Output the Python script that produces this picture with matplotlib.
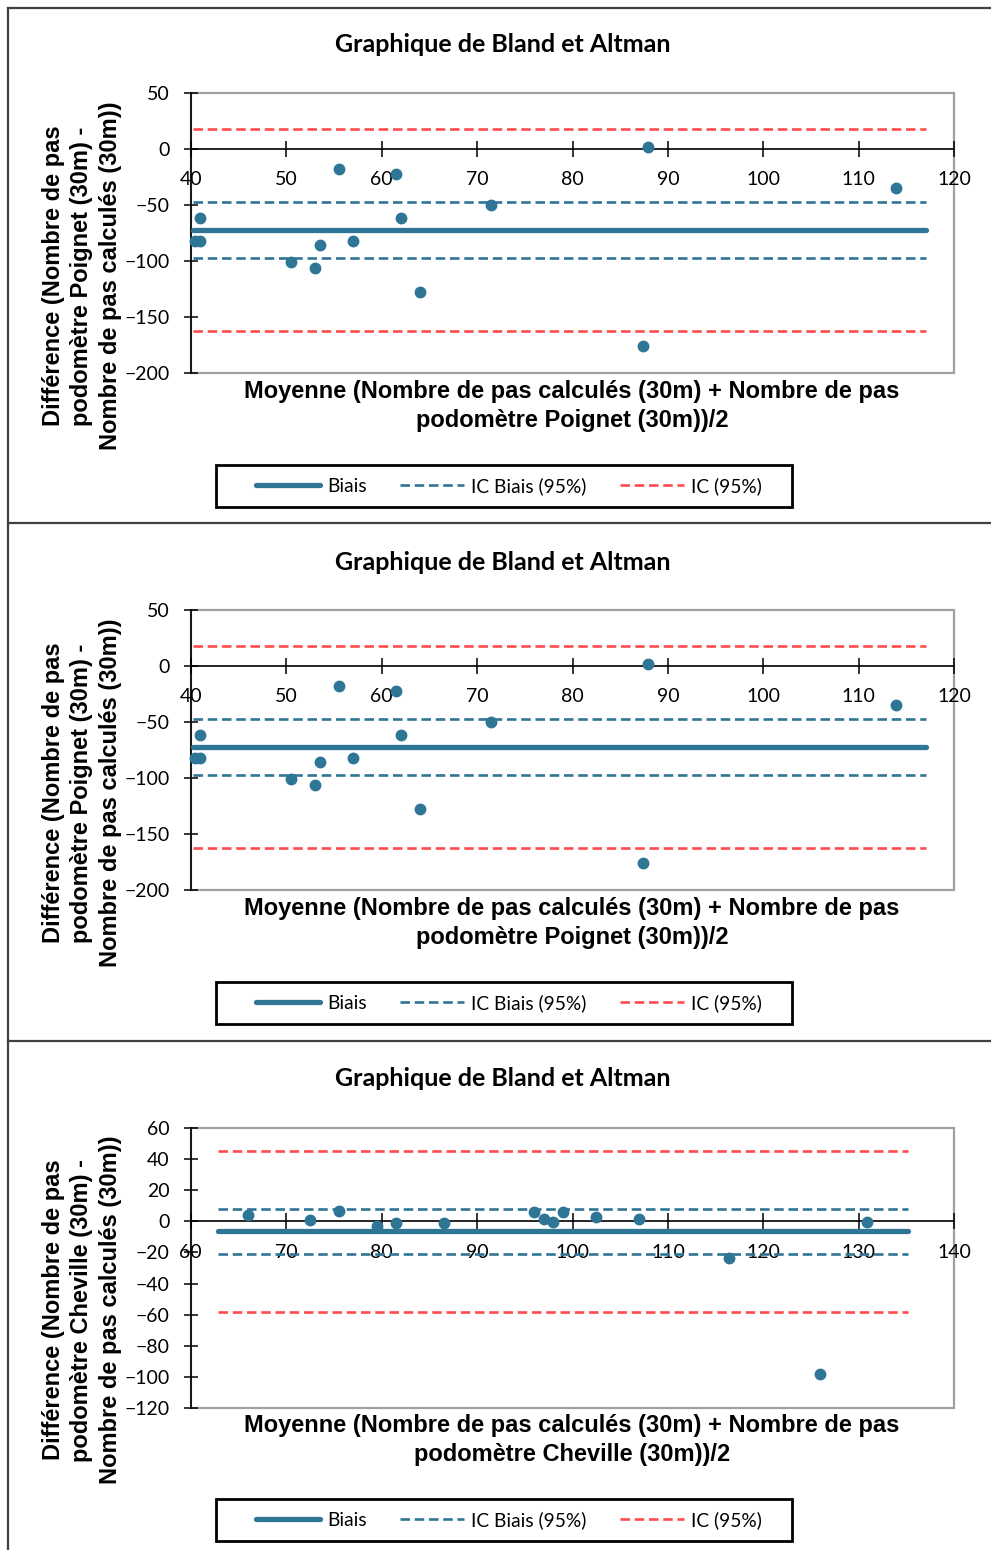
import matplotlib
matplotlib.use("Agg")
import matplotlib.pyplot as plt
from matplotlib.lines import Line2D
from matplotlib.patches import Rectangle

# ---------------- data ----------------
poignet_mean = [40.5, 41.0, 41.0, 55.5, 61.5, 62.0, 50.5, 53.0, 53.5, 57.0, 64.0, 71.5, 87.9, 113.9, 87.4]
poignet_diff = [-82, -82, -62, -18, -22, -62, -101, -106.5, -86, -82.5, -128, -50, 1.5, -34.5, -175.5]
poignet_bias = -72.3
poignet_icb = [-47.0, -97.6]
poignet_ic = [17.5, -162.2]
poignet_line_x = [40.2, 117.0]

cheville_mean = [66.0, 72.5, 75.5, 79.5, 81.5, 86.5, 96.0, 97.0, 98.0, 99.0, 102.5, 107.0, 130.9, 116.4, 125.9]
cheville_diff = [3.9, 1.0, 6.9, -2.8, -1.3, -1.3, 6.0, 1.7, -0.4, 6.0, 2.6, 1.7, -0.4, -23.5, -98.5]
cheville_bias = -6.3
cheville_icb = [8.2, -21.1]
cheville_ic = [45.4, -58.1]
cheville_line_x = [62.9, 135.2]

poignet_xticks = [40, 50, 60, 70, 80, 90, 100, 110, 120]
poignet_yticks = [50, 0, -50, -100, -150, -200]
cheville_xticks = [60, 70, 80, 90, 100, 110, 120, 130, 140]
cheville_yticks = [60, 40, 20, 0, -20, -40, -60, -80, -100, -120]

title_text = "Graphique de Bland et Altman"
legend_labels = ["Biais", "IC Biais (95%)", "IC (95%)"]
ylabel_poignet = "Différence (Nombre de pas\npodomètre Poignet (30m) -\nNombre de pas calculés (30m))"
xlabel_poignet = "Moyenne (Nombre de pas calculés (30m) + Nombre de pas\npodomètre Poignet (30m))/2"
ylabel_cheville = "Différence (Nombre de pas\npodomètre Cheville (30m) -\nNombre de pas calculés (30m))"
xlabel_cheville = "Moyenne (Nombre de pas calculés (30m) + Nombre de pas\npodomètre Cheville (30m))/2"

# ---------------- style ----------------
W, H = 991, 1550
BLUE = "#2E7596"
RED = "#FF4B4B"
GRAY = "#A0A0A0"
TFONT = ["Lato", "DejaVu Sans"]
AFONT = ["Liberation Sans", "DejaVu Sans"]
DASH = (0, (3.6, 1.8))

fig = plt.figure(figsize=(W / 100, H / 100), dpi=100)
fig.patch.set_facecolor("white")


def fx(px):
    return px / W


def fy(py):
    return 1 - py / H


# panel borders
for seg in [((8, 8), (8, H)), ((8, 991), (8, 8)), ((8, 991), (523, 523)), ((8, 991), (1041, 1041))]:
    (x0, x1), (y0, y1) = seg
    fig.add_artist(Line2D([fx(x0), fx(x1)], [fy(y0), fy(y1)], color="#404040", lw=1.6,
                          transform=fig.transFigure))


def panel(off, mean, diff, bias, icb, ic, line_x, xticks, yticks, ylabel, xlabel):
    top = 93 + off if yticks[0] == 50 else 1128.3
    bot = 373 + off if yticks[0] == 50 else 1407.7
    left, right = 190.7, 954.3
    ax = fig.add_axes([fx(left), fy(bot), fx(right) - fx(left), fy(top) - fy(bot)])
    ax.set_xlim(xticks[0], xticks[-1])
    ax.set_ylim(yticks[-1], yticks[0])
    ax.patch.set_alpha(0)
    ax.add_patch(Rectangle((0, 0), 1, 1, transform=ax.transAxes, fill=False,
                           edgecolor=GRAY, lw=1.6, clip_on=False, zorder=0.5))
    for s in ["top", "right"]:
        ax.spines[s].set_visible(False)
    ax.spines["bottom"].set_position(("data", 0))
    ax.spines["bottom"].set_color("black")
    ax.spines["bottom"].set_linewidth(1.2)
    ax.spines["left"].set_color("black")
    ax.spines["left"].set_linewidth(1.2)
    ax.set_xticks(xticks)
    ax.set_yticks(yticks)
    ax.tick_params(axis="x", direction="inout", length=12, width=1.1, pad=10,
                   labelsize=14, labelcolor="black")
    ax.tick_params(axis="y", direction="inout", length=10, width=1.1, pad=10,
                   labelsize=14, labelcolor="black")
    for lab in ax.get_xticklabels() + ax.get_yticklabels():
        lab.set_family(TFONT)

    ax.plot(line_x, [ic[0], ic[0]], color=RED, lw=1.9, ls=DASH, zorder=2)
    ax.plot(line_x, [ic[1], ic[1]], color=RED, lw=1.9, ls=DASH, zorder=2)
    ax.plot(line_x, [icb[0], icb[0]], color=BLUE, lw=1.9, ls=DASH, zorder=2)
    ax.plot(line_x, [icb[1], icb[1]], color=BLUE, lw=1.9, ls=DASH, zorder=2)
    ax.plot(line_x, [bias, bias], color=BLUE, lw=3.8, solid_capstyle="round", zorder=3)
    ax.plot(mean, diff, ls="none", marker="o", ms=7.5, color=BLUE, mec=BLUE, zorder=4,
            clip_on=False)

    fig.text(fx(503), fy(45 + off), title_text, ha="center", va="center",
             fontsize=18, fontweight="bold", family=TFONT)
    fig.text(fx(82), fy(276 + off), ylabel, rotation=90, ha="center", va="center",
             multialignment="center", fontsize=17, fontweight="bold", family=AFONT,
             linespacing=1.3)
    fig.text(fx(572), fy(406 + off), xlabel, ha="center", va="center",
             multialignment="center", fontsize=17, fontweight="bold", family=AFONT,
             linespacing=1.3)

    # legend frame (drawn separately to match the wide box)
    fig.add_artist(Rectangle((fx(216), fy(507 + off)), fx(792) - fx(216), fy(465) - fy(507),
                             transform=fig.transFigure, fill=True, facecolor="white",
                             edgecolor="black", lw=2.0, zorder=1))
    handles = [Line2D([], [], color=BLUE, lw=3.8, solid_capstyle="round"),
               Line2D([], [], color=BLUE, lw=1.9, ls=DASH),
               Line2D([], [], color=RED, lw=1.9, ls=DASH)]
    leg = fig.legend(handles, legend_labels, loc="center",
                     bbox_to_anchor=(fx(509), fy(486 + off)), ncol=3, frameon=False,
                     handlelength=3.35, handletextpad=0.35, columnspacing=1.75,
                     borderpad=0.5, prop={"family": TFONT, "size": 13.8})
    leg.set_zorder(2)
    return ax


panel(0, poignet_mean, poignet_diff, poignet_bias, poignet_icb, poignet_ic, poignet_line_x,
      poignet_xticks, poignet_yticks, ylabel_poignet, xlabel_poignet)
panel(517, poignet_mean, poignet_diff, poignet_bias, poignet_icb, poignet_ic, poignet_line_x,
      poignet_xticks, poignet_yticks, ylabel_poignet, xlabel_poignet)
panel(1034, cheville_mean, cheville_diff, cheville_bias, cheville_icb, cheville_ic,
      cheville_line_x, cheville_xticks, cheville_yticks, ylabel_cheville, xlabel_cheville)

fig.savefig("out.png", dpi=100, facecolor="white")
